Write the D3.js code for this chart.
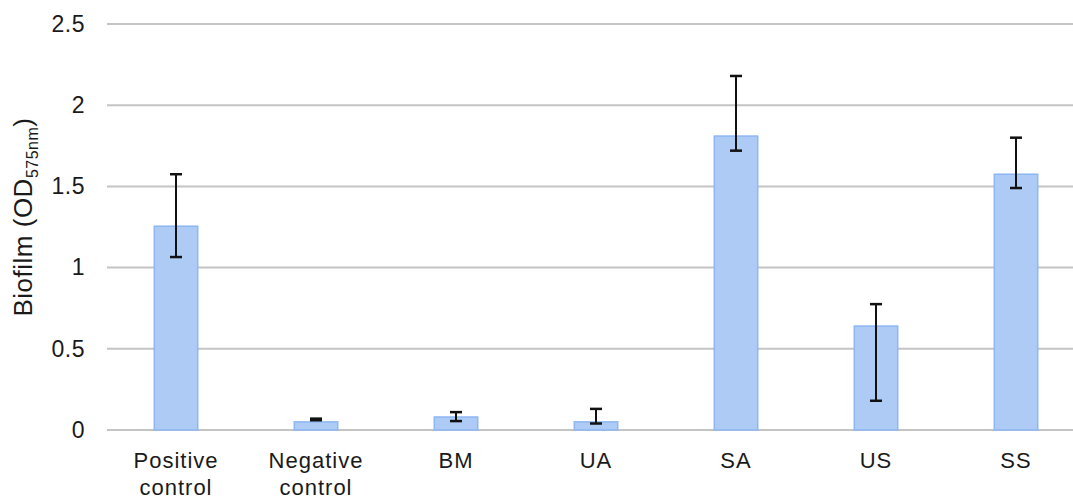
<!DOCTYPE html>
<html><head><meta charset="utf-8">
<script src="https://cdn.jsdelivr.net/npm/d3@7"></script>
<style>body{margin:0;background:#fff}svg{display:block}text{font-family:"Liberation Sans",Arial,sans-serif}</style>
</head><body><svg id="c" width="1073" height="501"></svg>
<script>
const categories = [["Positive","control"],["Negative","control"],["BM"],["UA"],["SA"],["US"],["SS"]];
const values = [1.255, 0.05, 0.08, 0.05, 1.81, 0.64, 1.575];
const errLow = [1.065, 0.06, 0.055, 0.04, 1.72, 0.18, 1.49];
const errHigh = [1.575, 0.07, 0.11, 0.13, 2.18, 0.775, 1.80];
const yTicks = [0, 0.5, 1, 1.5, 2, 2.5];

const svg = d3.select("#c");
const x = d3.scaleBand().domain(d3.range(categories.length)).range([106, 1086]).paddingInner(0.69).paddingOuter(0.345);
const y = d3.scaleLinear().domain([0, 2.5]).range([430, 24]);

// gridlines
svg.append("g").selectAll("line").data(yTicks).join("line")
  .attr("x1", 107).attr("x2", 1073)
  .attr("y1", d => y(d)).attr("y2", d => y(d))
  .attr("stroke", "#c4c4c4").attr("stroke-width", 2);

// y tick labels
const yAxis = d3.axisLeft(y).tickValues(yTicks).tickFormat(d => d).tickSize(0).tickPadding(0);
const ga = svg.append("g").attr("transform", "translate(85,0)").call(yAxis);
ga.select(".domain").remove();
ga.selectAll("text").attr("font-size", 23).attr("fill", "#1a1a1a").attr("font-family", "Liberation Sans, Arial, sans-serif").attr("letter-spacing", 0.5);

// bars
svg.append("g").selectAll("rect").data(values).join("rect")
  .attr("x", (d, i) => x(i)).attr("width", x.bandwidth())
  .attr("y", d => y(d)).attr("height", d => y(0) - y(d))
  .attr("fill", "#aecbf6").attr("stroke", "#8db6f2").attr("stroke-width", 1.5);

// error bars
const eg = svg.append("g").attr("stroke", "#111").attr("stroke-width", 2);
values.forEach((v, i) => {
  const cx = x(i) + x.bandwidth() / 2;
  eg.append("line").attr("x1", cx).attr("x2", cx).attr("y1", y(errLow[i])).attr("y2", y(errHigh[i]));
  [errLow[i], errHigh[i]].forEach(e => {
    eg.append("line").attr("x1", cx - 6).attr("x2", cx + 6).attr("y1", y(e)).attr("y2", y(e)).attr("stroke-width", 2.5);
  });
});

// x labels
const xl = svg.append("g");
categories.forEach((lines, i) => {
  const cx = x(i) + x.bandwidth() / 2;
  const t = xl.append("text").attr("x", cx).attr("y", 468).attr("text-anchor", "middle")
    .attr("font-size", 22).attr("letter-spacing", 1).attr("fill", "#1a1a1a");
  lines.forEach((l, j) => t.append("tspan").attr("x", cx).attr("dy", j === 0 ? 0 : 27).text(l));
});

// y axis title
const yt = svg.append("text").attr("transform", "translate(32,217) rotate(-90)")
  .attr("text-anchor", "middle").attr("font-size", 26).attr("letter-spacing", 0.5).attr("fill", "#1a1a1a");
yt.append("tspan").text("Biofilm (OD");
yt.append("tspan").attr("font-size", 16).attr("dy", 6).text("575nm");
yt.append("tspan").attr("dy", -6).text(")");
</script></body></html>
